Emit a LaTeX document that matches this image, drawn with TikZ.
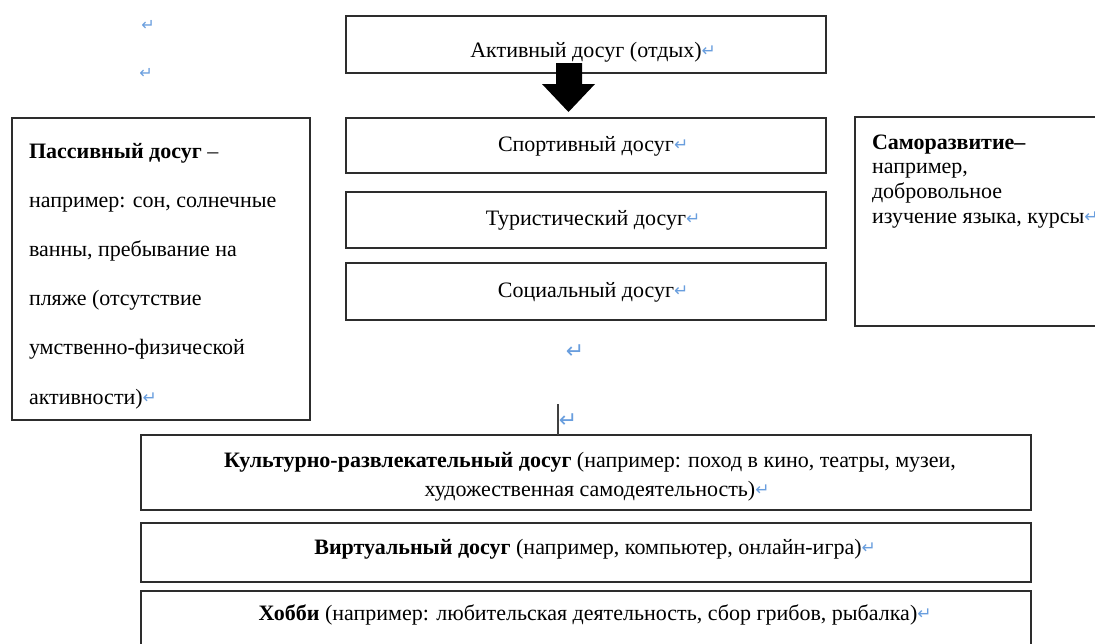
\documentclass[tikz,border=0pt]{standalone}
\usepackage{fontspec}
\setmainfont{Liberation Serif}
\newfontfamily\markfont{DejaVu Sans}
\definecolor{pmark}{RGB}{105,158,222}
\definecolor{frame}{RGB}{45,45,45}
\newcommand{\rmk}{{\markfont\fontsize{17}{17}\selectfont\color{pmark}\raisebox{0.5pt}{↵}}}
\begin{document}
\begin{tikzpicture}[x=1pt,y=-1pt,
  bx/.style={draw=frame, line width=1.2pt, inner sep=0, outer sep=0},
  txt/.style={inner sep=0, outer sep=0, font=\fontsize{22}{26}\selectfont},
  pm/.style={inner sep=0, outer sep=0, text=pmark},
  cursorline/.style={draw=black!75, line width=1.2pt}]
\useasboundingbox[fill=white] (0,0) rectangle (1095,643);

% boxes
\node[bx, minimum width=480pt, minimum height=57pt] (top) at (586,44.5) {};
\node[bx, minimum width=480pt, minimum height=55pt] (sport) at (586,145.5) {};
\node[bx, minimum width=480pt, minimum height=56pt] (tour) at (586,220) {};
\node[bx, minimum width=480pt, minimum height=57pt] (soc) at (586,291.5) {};
\node[bx, minimum width=298pt, minimum height=302pt] (pass) at (161,269) {};
\node[bx, minimum width=250pt, minimum height=209pt] (self) at (980,221.5) {};
\node[bx, minimum width=890pt, minimum height=75pt] (cult) at (586,472.5) {};
\node[bx, minimum width=890pt, minimum height=59pt] (virt) at (586,552.5) {};
\node[bx, minimum width=890pt, minimum height=69pt] (hob) at (586,625.5) {};

% block arrow
\fill[black] (556,63) -- (582,63) -- (582,84) -- (595,84) -- (568.5,112)
  -- (542,84) -- (556,84) -- cycle;

% centre texts
\node[txt, anchor=base] (ttop) at (586,57) {Активный досуг (отдых)\rlap{\rmk}};
\node[txt, anchor=base] (tsport) at (586,151) {Спортивный досуг\rlap{\rmk}};
\node[txt, anchor=base] (ttour) at (586,225) {Туристический досуг\rlap{\rmk}};
\node[txt, anchor=base] (tsoc) at (586,297) {Социальный досуг\rlap{\rmk}};

% left box
\node[txt, anchor=base west] (p1) at (29,158) {\textbf{Пассивный досуг} –};
\node[txt, anchor=base west] (p2) at (29,207.2) {например: сон, солнечные};
\node[txt, anchor=base west] (p3) at (29,256.4) {ванны, пребывание на};
\node[txt, anchor=base west] (p4) at (29,305.6) {пляже (отсутствие};
\node[txt, anchor=base west] (p5) at (29,354.8) {умственно-физической};
\node[txt, anchor=base west] (p6) at (29,404) {активности)\rmk};

% right box
\node[txt, anchor=base west] (s1) at (872,149) {\textbf{Саморазвитие–}};
\node[txt, anchor=base west] (s2) at (872,173.7) {например,};
\node[txt, anchor=base west] (s3) at (872,198.4) {добровольное};
\node[txt, anchor=base west] (s4) at (872,223) {изучение языка, курсы\rmk};

% bottom boxes
\node[txt, anchor=base] (c1) at (590,467) {\textbf{Культурно-развлекательный досуг} (например: поход в кино, театры, музеи,};
\node[txt, anchor=base] (c2) at (590,496) {художественная самодеятельность)\rlap{\rmk}};
\node[txt, anchor=base] (v1) at (588,554) {\textbf{Виртуальный досуг} (например, компьютер, онлайн-игра)\rlap{\rmk}};
\node[txt, anchor=base] (h1) at (588,620) {\textbf{Хобби} (например: любительская деятельность, сбор грибов, рыбалка)\rlap{\rmk}};

% loose paragraph marks
\node[pm, font=\markfont\fontsize{16}{16}\selectfont] (m1) at (148,25) {↵};
\node[pm, font=\markfont\fontsize{16}{16}\selectfont] (m2) at (146,73) {↵};
\node[pm, font=\markfont\fontsize{22}{22}\selectfont] (m3) at (575,352) {↵};
\node[pm, font=\markfont\fontsize{22}{22}\selectfont] (m4) at (568,421) {↵};

% text cursor
\coordinate (cur) at (558,404);
\draw[cursorline] (cur) -- (cur |- cult.north);
\end{tikzpicture}
\end{document}
